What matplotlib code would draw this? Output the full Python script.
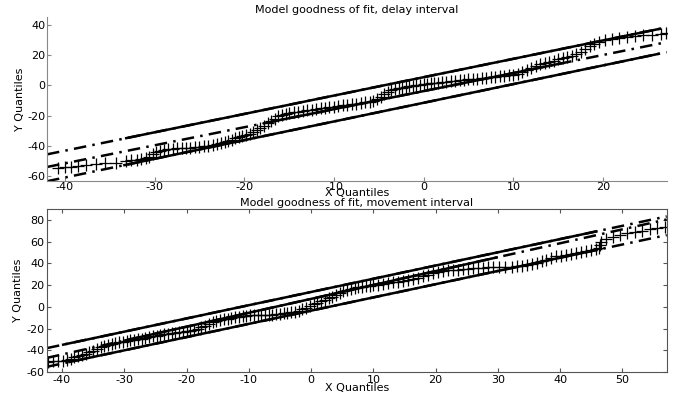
import numpy as np
import matplotlib
matplotlib.use('Agg')
import matplotlib.pyplot as plt

plt.rcParams['font.family'] = ['DejaVu Sans']
plt.rcParams['font.size'] = 8
plt.rcParams['axes.unicode_minus'] = False

# delay interval: sorted sample quantiles
delay_x = [-40.8, -40.0, -39.3, -38.5, -37.6, -36.5, -35.5, -34.3, -33.2, -32.6,
           -32.0, -31.5, -31.0, -30.6, -30.2, -29.8, -29.4, -29.0, -28.5, -28.0,
           -27.5, -27.0, -26.5, -26.0, -25.5, -25.0, -24.5, -24.0, -23.5, -23.0,
           -22.6, -22.2, -21.8, -21.4, -21.0, -20.6, -20.2, -19.8, -19.4, -19.0,
           -18.6, -18.2, -17.8, -17.4, -17.0, -16.6, -16.2, -15.8, -15.4, -15.0,
           -14.5, -14.0, -13.5, -13.0, -12.5, -12.0, -11.5, -11.0, -10.5, -10.0,
           -9.5, -9.0, -8.5, -8.0, -7.5, -7.0, -6.5, -6.0, -5.6, -5.2,
           -4.8, -4.4, -4.0, -3.6, -3.2, -2.8, -2.4, -2.0, -1.6, -1.2,
           -0.8, -0.4, 0.0, 0.4, 0.8, 1.2, 1.6, 2.0, 2.5, 3.0,
           3.5, 4.0, 4.5, 5.0, 5.5, 6.0, 6.5, 7.0, 7.5, 8.0,
           8.5, 9.0, 9.5, 10.0, 10.5, 11.0, 11.5, 12.0, 12.5, 13.0,
           13.5, 14.0, 14.5, 15.0, 15.5, 16.0, 16.5, 17.0, 17.5, 18.0,
           18.5, 19.0, 19.5, 20.2, 21.0, 21.8, 22.7, 23.6, 24.5, 25.5,
           26.5, 27.0]
delay_y = [-54.5, -54.0, -53.5, -53.0, -52.5, -52.0, -51.5, -51.0, -50.0, -49.5,
           -49.0, -48.5, -48.0, -47.0, -45.5, -44.0, -43.0, -42.5, -42.0, -41.8,
           -41.5, -41.3, -41.2, -41.0, -40.8, -40.6, -40.3, -40.0, -39.6, -39.0,
           -38.3, -37.5, -36.6, -35.8, -35.0, -34.2, -33.5, -32.8, -32.0, -31.0,
           -29.5, -28.0, -26.5, -25.0, -23.5, -22.0, -20.5, -19.5, -18.8, -18.3,
           -17.8, -17.3, -16.8, -16.4, -16.0, -15.6, -15.2, -14.8, -14.4, -14.0,
           -13.7, -13.3, -13.0, -12.6, -12.2, -11.8, -11.3, -10.8, -10.2, -9.0,
           -7.5, -6.0, -4.5, -3.3, -2.6, -2.0, -1.5, -1.0, -0.6, -0.2,
           0.1, 0.4, 0.7, 1.0, 1.3, 1.5, 1.8, 2.0, 2.3, 2.6,
           2.9, 3.2, 3.5, 3.8, 4.1, 4.4, 4.7, 5.0, 5.3, 5.6,
           5.9, 6.2, 6.6, 7.0, 7.5, 8.5, 10.0, 11.5, 13.0, 14.0,
           14.8, 15.5, 16.2, 17.0, 17.8, 18.6, 19.6, 20.8, 22.2, 24.0,
           25.8, 27.4, 28.6, 29.5, 30.3, 31.0, 31.6, 32.2, 32.8, 33.3,
           33.8, 34.2]

# movement interval: sorted sample quantiles
move_x = [-42.2, -41.4, -40.6, -39.8, -39.2, -38.6, -38.0, -37.4, -36.8, -36.2,
          -35.6, -35.0, -34.4, -33.8, -33.2, -32.6, -32.0, -31.4, -30.8, -30.2,
          -29.6, -29.0, -28.4, -27.8, -27.2, -26.6, -26.0, -25.4, -24.8, -24.2,
          -23.6, -23.0, -22.4, -21.8, -21.2, -20.6, -20.0, -19.4, -18.8, -18.2,
          -17.6, -17.0, -16.4, -15.8, -15.2, -14.6, -14.0, -13.4, -12.8, -12.2,
          -11.6, -11.0, -10.4, -9.8, -9.2, -8.6, -8.0, -7.4, -6.8, -6.2,
          -5.6, -5.0, -4.4, -3.8, -3.2, -2.6, -2.0, -1.4, -0.8, -0.2,
          0.4, 1.0, 1.6, 2.2, 2.8, 3.4, 4.0, 4.6, 5.2, 5.8,
          6.4, 7.0, 7.6, 8.2, 8.8, 9.4, 10.0, 10.8, 11.6, 12.4,
          13.2, 14.0, 14.8, 15.6, 16.4, 17.2, 18.0, 18.8, 19.6, 20.4,
          21.2, 22.0, 22.8, 23.6, 24.4, 25.2, 26.0, 26.8, 27.6, 28.4,
          29.2, 30.2, 31.2, 32.2, 33.0, 33.8, 34.6, 35.4, 36.2, 37.0,
          37.8, 38.6, 39.4, 40.2, 41.0, 41.8, 42.6, 43.4, 44.2, 45.0,
          45.8, 46.2, 46.4, 46.6, 47.4, 48.4, 49.6, 50.8, 52.0, 53.2,
          54.4, 55.6, 56.8]
move_y = [-50.5, -50.2, -50.0, -49.6, -48.8, -47.8, -46.6, -45.4, -44.2, -43.0,
          -41.8, -40.6, -39.2, -37.4, -36.0, -35.0, -34.0, -33.2, -32.6, -32.0,
          -31.5, -31.0, -30.4, -29.8, -29.2, -28.6, -28.0, -27.2, -26.5, -25.9,
          -25.3, -24.8, -24.3, -23.9, -23.5, -23.1, -22.6, -21.9, -21.0, -20.0,
          -19.0, -17.6, -16.0, -14.4, -13.2, -12.2, -11.4, -10.8, -10.3, -9.8,
          -9.3, -8.8, -8.3, -7.9, -7.5, -7.3, -7.2, -7.2, -7.2, -7.1,
          -6.9, -6.6, -6.1, -5.5, -4.9, -4.3, -3.4, -2.3, -1.0, 0.8,
          2.6, 3.8, 5.0, 6.4, 8.0, 9.4, 11.0, 12.6, 14.2, 15.4,
          16.4, 17.2, 17.9, 18.5, 19.1, 19.6, 20.0, 20.5, 21.1, 21.8,
          22.5, 23.3, 24.1, 24.9, 25.8, 26.9, 28.2, 29.6, 31.0, 32.1,
          32.9, 33.5, 34.0, 34.4, 34.8, 35.1, 35.4, 35.7, 36.0, 36.3,
          36.5, 36.7, 36.9, 37.1, 37.4, 37.8, 38.4, 39.4, 40.6, 42.0,
          43.6, 45.2, 46.4, 47.3, 48.2, 49.0, 49.8, 50.6, 51.4, 52.2,
          53.0, 54.5, 57.0, 59.5, 62.5, 64.5, 66.5, 68.0, 69.3, 70.3,
          71.3, 72.2, 73.2]

# reference / bound lines: (x0, y0, x1, y1), solid between s0 and s1
delay_lines = [(-42.0, -45.5, 27.1, 38.1, -33.3, 26.5),
               (-42.0, -63.2, 27.1, 21.8, -33.5, 26.3),
               (-42.0, -53.8, 27.1, 28.4, -17.0, 15.5)]
move_lines = [(-42.4, -38.0, 57.1, 83.3, -40.0, 46.0),
              (-42.4, -55.2, 57.1, 66.1, -39.0, 46.0),
              (-42.4, -47.0, 57.1, 80.5, -30.0, 30.0)]

dashdot = (0, (5, 2.5, 1, 2.5))


def draw_qq(ax, xq, yq, lines):
    for x0, y0, x1, y1, s0, s1 in lines:
        ax.plot([x0, x1], [y0, y1], color='k', lw=1.8, linestyle=dashdot)
        ys = np.interp([s0, s1], [x0, x1], [y0, y1])
        ax.plot([s0, s1], ys, color='k', lw=1.8, solid_capstyle='butt')
    ax.plot(xq, yq, '+', color='k', ms=8, mew=0.9)
    ax.set_ylabel('Y Quantiles', labelpad=2)


fig = plt.figure(figsize=(6.81, 4.03), dpi=100)

ax1 = fig.add_axes([0.069, 0.551, 0.910, 0.407])
draw_qq(ax1, delay_x, delay_y, delay_lines)
ax1.set_xlabel('X Quantiles', labelpad=-3)
ax1.set_xlim(-42.0, 27.1)
ax1.set_ylim(-63, 45)
ax1.set_xticks([-40, -30, -20, -10, 0, 10, 20])
ax1.set_yticks([-60, -40, -20, 0, 20, 40])
ax1.spines['top'].set_visible(False)
ax1.spines['right'].set_visible(False)
for s in ['left', 'bottom']:
    ax1.spines[s].set_color('#888888')
ax1.tick_params(direction='in', length=3, pad=1, color='#888888')
ax1.set_title('Model goodness of fit, delay interval', fontsize=8, pad=3)

ax2 = fig.add_axes([0.069, 0.077, 0.910, 0.404])
draw_qq(ax2, move_x, move_y, move_lines)
ax2.set_xlabel('X Quantiles', labelpad=-1)
ax2.set_xlim(-42.4, 57.1)
ax2.set_ylim(-60, 90)
ax2.set_xticks([-40, -30, -20, -10, 0, 10, 20, 30, 40, 50])
ax2.set_yticks([-60, -40, -20, 0, 20, 40, 60, 80])
for s in ax2.spines.values():
    s.set_color('#555555')
ax2.tick_params(direction='in', length=3, pad=2, top=True, right=True, color='#555555')
ax2.set_title('Model goodness of fit, movement interval', fontsize=8, pad=2)

fig.savefig('out.png', dpi=100)
